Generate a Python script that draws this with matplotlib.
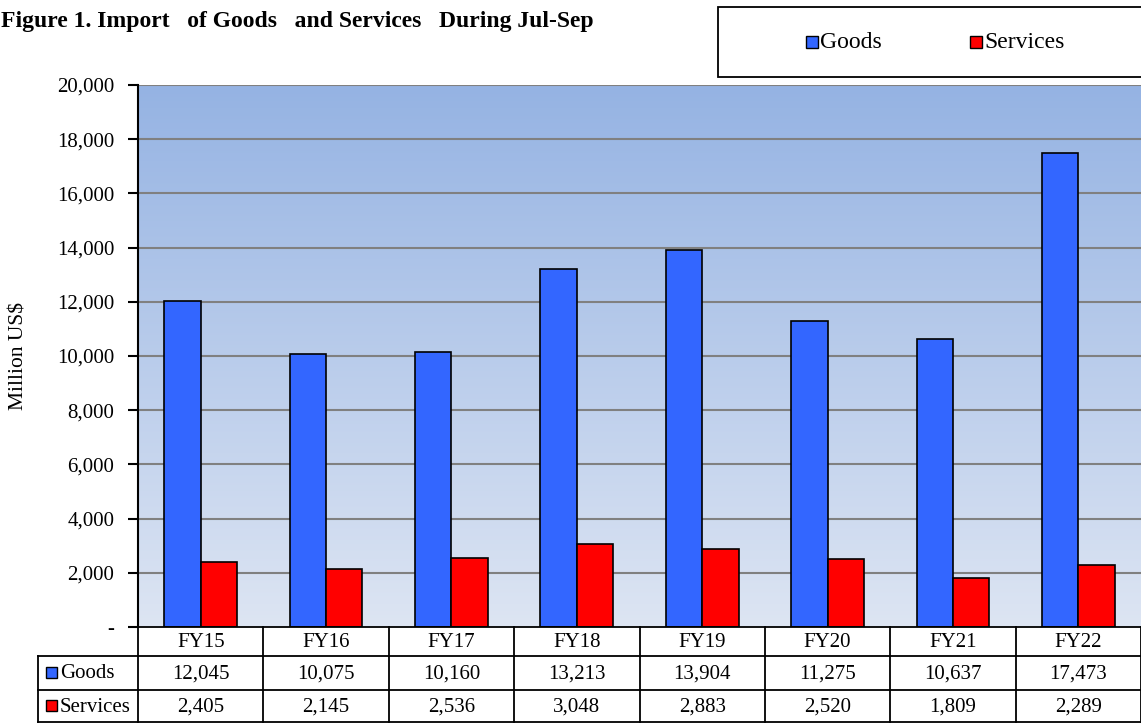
import numpy as np
import matplotlib
matplotlib.use("Agg")
import matplotlib.pyplot as plt
from matplotlib.patches import Rectangle
from matplotlib.lines import Line2D
import matplotlib.transforms as mtrans

categories = ["FY15", "FY16", "FY17", "FY18", "FY19", "FY20", "FY21", "FY22"]
goods = [12045, 10075, 10160, 13213, 13904, 11275, 10637, 17473]
services = [2405, 2145, 2536, 3048, 2883, 2520, 1809, 2289]
series_names = ["Goods", "Services"]
yticks = [0, 2000, 4000, 6000, 8000, 10000, 12000, 14000, 16000, 18000, 20000]
title = "Figure 1. Import   of Goods   and Services   During Jul-Sep"

c_goods = "#3366FF"
c_serv = "#FF0000"

plt.rcParams['font.family'] = ['Liberation Serif', 'DejaVu Serif']

W, H = 1141, 724
fig = plt.figure(figsize=(W / 100, H / 100), dpi=100)
L, R, T, B = 138, 1141, 85, 627
ax = fig.add_axes([L / W, 1 - B / H, (R - L) / W, (B - T) / H])

n = len(categories)
x = np.arange(n)
bw = 0.29
ax.set_xlim(-0.5, n - 0.5)
ax.set_ylim(0, 20000)

# gradient background
top = np.array([149, 179, 227]) / 255
bot = np.array([221, 229, 243]) / 255
t = np.linspace(0, 1, 256)[:, None]
grad = (top[None, :] * (1 - t) + bot[None, :] * t)[:, None, :]
ax.imshow(grad, extent=[-0.5, n - 0.5, 0, 20000], aspect='auto', origin='upper', zorder=0)

for yv in yticks[1:]:
    ax.axhline(yv, color="#808080", lw=1.5, zorder=1)

ax.bar(x - bw / 2, goods, bw, color=c_goods, edgecolor="black", lw=1.2, zorder=3)
ax.bar(x + bw / 2, services, bw, color=c_serv, edgecolor="black", lw=1.2, zorder=3)

ax.set_xticks([])
ax.set_yticks(yticks)
ax.set_yticklabels(["-" if v == 0 else f"{v:,}" for v in yticks], fontsize=15)
ax.tick_params(axis='y', direction='out', length=7, width=1.5, pad=10)
for s in ["top", "right", "bottom"]:
    ax.spines[s].set_visible(False)
ax.spines["left"].set_linewidth(1.5)
ax.set_ylabel("Million US$", fontsize=15.5)
ax.yaxis.set_label_coords((29 - L) / (R - L), 0.5)

# data table drawn below the axes
def fy(py):
    return 1 - py / H

tr = mtrans.blended_transform_factory(ax.transData, fig.transFigure)
ftr = fig.transFigure
rows_y = [627, 656, 690, 722]
lw = 1.3
fig.add_artist(Line2D([L / W, 1], [fy(rows_y[0])] * 2, color="black", lw=lw, transform=ftr))
for yy in rows_y[1:]:
    fig.add_artist(Line2D([38 / W, 1], [fy(yy)] * 2, color="black", lw=lw, transform=ftr))
fig.add_artist(Line2D([38 / W] * 2, [fy(rows_y[1]), fy(rows_y[3])], color="black", lw=lw, transform=ftr))
for i in range(n + 1):
    xb = i - 0.5
    fig.add_artist(Line2D([xb, xb], [fy(rows_y[0]), fy(rows_y[3])], color="black", lw=lw, transform=tr))
for i, c in enumerate(categories):
    fig.text(i, fy((rows_y[0] + rows_y[1]) / 2 + 1), c, transform=tr, ha='center', va='center', fontsize=15)
    fig.text(i, fy((rows_y[1] + rows_y[2]) / 2 + 1), f"{goods[i]:,}", transform=tr, ha='center', va='center', fontsize=15)
    fig.text(i, fy((rows_y[2] + rows_y[3]) / 2 + 1), f"{services[i]:,}", transform=tr, ha='center', va='center', fontsize=15)
for k, (nm, col) in enumerate(zip(series_names, [c_goods, c_serv])):
    yc = (rows_y[1 + k] + rows_y[2 + k]) / 2
    fig.add_artist(Rectangle((46 / W, fy(yc + 5)), 11 / W, 11 / H, facecolor=col, edgecolor="black", lw=1, transform=ftr))
    fig.text(60 / W, fy(yc + 1), nm, ha='left', va='center', fontsize=15)

# legend box
fig.add_artist(Rectangle((718 / W, fy(77)), (W + 10 - 718) / W, 70 / H, facecolor="white", edgecolor="black", lw=1.3, transform=ftr))
for nm, col, xm in zip(series_names, [c_goods, c_serv], [806, 970]):
    fig.add_artist(Rectangle((xm / W, fy(48)), 12 / W, 12 / H, facecolor=col, edgecolor="black", lw=1, transform=ftr))
    fig.text((xm + 14) / W, fy(42), nm, ha='left', va='center', fontsize=17)

# title
fig.text(1 / W, fy(22), title, ha='left', va='center', fontsize=17, fontweight='bold')

fig.savefig("out.png", dpi=100)
